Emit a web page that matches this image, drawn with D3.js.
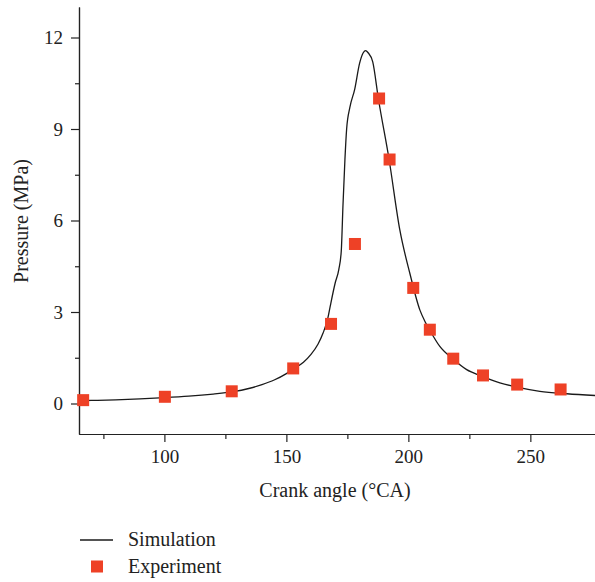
<!DOCTYPE html>
<html>
<head>
<meta charset="utf-8">
<script src="https://cdn.jsdelivr.net/npm/d3@7"></script>
<style>
  body { margin: 0; background: #fff; }
  text { font-family: "Liberation Serif", "DejaVu Serif", serif; fill: #222; }
</style>
</head>
<body>
<script>
// simulated pressure trace (crank angle, MPa)
const simAngle = [65, 70, 80, 90, 100, 110, 120, 127.6, 135, 140, 145, 150, 153, 157, 160, 163, 165, 167,
  168, 170, 171.5, 172.5, 173.2, 174, 174.7, 176, 178, 180, 181.5, 182.5, 183.5, 185.4, 187.7,
  192.1, 196.5, 200.6, 204.7, 206.8, 208.8, 212.9, 218.4, 223.9, 230, 237.5,
  245, 253.9, 265, 277]
const simPressure = [0.09, 0.1, 0.12, 0.15, 0.19, 0.24, 0.31, 0.38, 0.5, 0.62, 0.77, 0.98, 1.14, 1.35, 1.6,
  1.95, 2.3, 2.8, 3.2, 3.95, 4.4, 5.0, 6.5, 8.0, 9.0, 9.7, 10.3, 11.15, 11.5, 11.57, 11.5, 11.2, 10.0,
  8.0, 5.69, 4.27, 3.07, 2.69, 2.4, 1.87, 1.45, 1.11, 0.9, 0.68, 0.53, 0.4,
  0.32, 0.26]

// measured points
const expAngle = [66.7, 100.2, 127.6, 152.8, 168.3, 178.1, 188, 192.3, 202, 208.8, 218.4, 230.6, 244.6, 262.4]
const expPressure = [0.11, 0.22, 0.4, 1.15, 2.61, 5.23, 10.0, 8.0, 3.79, 2.42, 1.47, 0.92, 0.62, 0.46]

const xTicks = [100, 150, 200, 250]
const yTicks = [0, 3, 6, 9, 12]

const W = 595, H = 582
const margin = {left: 79, right: 0, top: 7, bottom: 148}

const svg = d3.select("body").append("svg").attr("width", W).attr("height", H)

const x = d3.scaleLinear().domain([65, 276.5]).range([margin.left, W - margin.right])
const y = d3.scaleLinear().domain([-1, 13]).range([H - margin.bottom, margin.top])

const sim = simAngle.map((a, i) => [a, simPressure[i]])
const exp = expAngle.map((a, i) => [a, expPressure[i]])

// axes: major ticks with labels, unlabeled minor ticks half way
svg.append("g").attr("transform", `translate(0,${y(-1)})`)
  .call(d3.axisBottom(x).tickValues(xTicks).tickSize(8).tickPadding(8).tickSizeOuter(0))
svg.append("g").attr("transform", `translate(0,${y(-1)})`)
  .call(d3.axisBottom(x).tickValues([75, 125, 175, 225]).tickSize(5).tickFormat("").tickSizeOuter(0))
svg.append("g").attr("transform", `translate(${x(65)},0)`)
  .call(d3.axisLeft(y).tickValues(yTicks).tickSize(8).tickPadding(8).tickSizeOuter(0))
svg.append("g").attr("transform", `translate(${x(65)},0)`)
  .call(d3.axisLeft(y).tickValues([1.5, 4.5, 7.5, 10.5]).tickSize(4).tickFormat("").tickSizeOuter(0))

svg.selectAll(".domain, .tick line").attr("stroke", "#222").attr("stroke-width", 1.2)
svg.selectAll(".tick text").style("font-family", '"Liberation Serif", serif').style("font-size", "19px").attr("fill", "#222")

svg.append("text").attr("x", 335).attr("y", 497).attr("text-anchor", "middle")
  .style("font-size", "20px").text("Crank angle (°CA)")
svg.append("text").attr("transform", `translate(28,221) rotate(-90)`).attr("text-anchor", "middle")
  .style("font-size", "20px").text("Pressure (MPa)")

const line = d3.line().x(d => x(d[0])).y(d => y(d[1])).curve(d3.curveMonotoneX)
svg.append("path").datum(sim).attr("d", line)
  .attr("fill", "none").attr("stroke", "#1a1a1a").attr("stroke-width", 1.3)

const s = 12
svg.selectAll("rect.pt").data(exp).enter().append("rect").attr("class", "pt")
  .attr("x", d => x(d[0]) - s / 2).attr("y", d => y(d[1]) - s / 2)
  .attr("width", s).attr("height", s).attr("fill", "#ee4126")

// legend
svg.append("line").attr("x1", 80).attr("x2", 113).attr("y1", 540).attr("y2", 540)
  .attr("stroke", "#1a1a1a").attr("stroke-width", 1.3)
svg.append("text").attr("x", 128).attr("y", 546).style("font-size", "20px").text("Simulation")
svg.append("rect").attr("x", 97 - s / 2).attr("y", 566.5 - s / 2).attr("width", s).attr("height", s).attr("fill", "#ee4126")
svg.append("text").attr("x", 128).attr("y", 573).style("font-size", "20px").text("Experiment")
</script>
</body>
</html>
